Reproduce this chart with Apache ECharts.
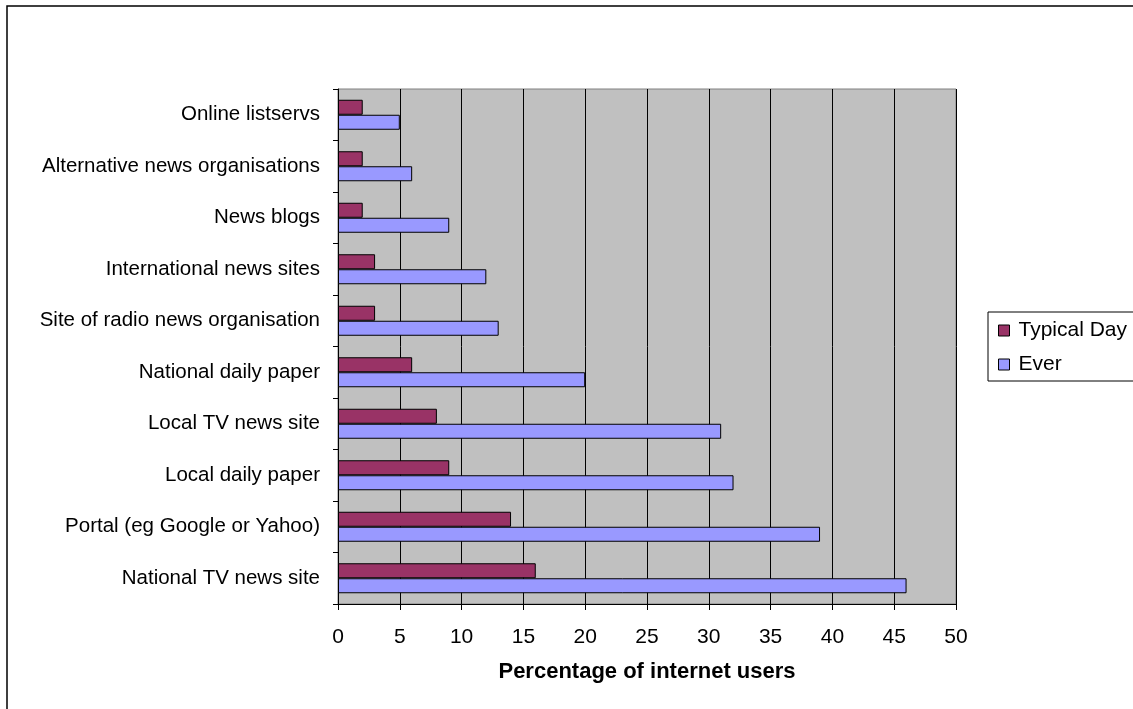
<!DOCTYPE html>
<html>
<head>
<meta charset="utf-8">
<title>Online news sources</title>
<script src="https://cdn.jsdelivr.net/npm/echarts@6/dist/echarts.min.js"></script>
<style>
  html, body { margin: 0; padding: 0; background: #fff; }
  #chart { width: 1133px; height: 709px; }
</style>
</head>
<body>
<div id="chart"></div>
<script>
// categories listed bottom to top, as echarts draws a category y axis
const categories = [
  'National TV news site',
  'Portal (eg Google or Yahoo)',
  'Local daily paper',
  'Local TV news site',
  'National daily paper',
  'Site of radio news organisation',
  'International news sites',
  'News blogs',
  'Alternative news organisations',
  'Online listservs'
]
const typicalDay = [16, 14, 9, 8, 6, 3, 3, 2, 2, 2]
const ever = [46, 39, 32, 31, 20, 13, 12, 9, 6, 5]
const xTicks = { min: 0, max: 50, interval: 5 }

const font = 'Liberation Sans, Arial, sans-serif'

const chart = echarts.init(document.getElementById('chart'))

const option = {
  animation: false,
  backgroundColor: '#fff',
  textStyle: { fontFamily: font },
  graphic: [
    {
      type: 'rect',
      shape: { x: 7, y: 6, width: 1140, height: 720 },
      style: { fill: 'none', stroke: '#000', lineWidth: 1.5 },
      z: -1
    }
  ],
  grid: {
    left: 338,
    right: 177,
    top: 89,
    bottom: 105,
    show: true,
    backgroundColor: '#c0c0c0',
    borderColor: '#808080',
    borderWidth: 1
  },
  legend: {
    orient: 'vertical',
    left: 988,
    top: 312,
    data: ['Typical Day', 'Ever'],
    icon: 'rect',
    itemWidth: 11,
    itemHeight: 11,
    itemGap: 13,
    padding: [8, 40, 6, 10],
    borderColor: '#000',
    borderWidth: 1,
    backgroundColor: '#fff',
    itemStyle: { borderColor: '#000', borderWidth: 1 },
    textStyle: { fontSize: 21, color: '#000', fontFamily: font, padding: [0, 0, 0, 4] }
  },
  xAxis: {
    type: 'value',
    min: xTicks.min,
    max: xTicks.max,
    interval: xTicks.interval,
    name: 'Percentage of internet users',
    nameLocation: 'middle',
    nameGap: 57,
    nameTextStyle: { fontSize: 22, fontWeight: 'bold', color: '#000', fontFamily: font },
    axisLine: { show: true, lineStyle: { color: '#000', width: 1 } },
    axisTick: { show: true, length: 6, lineStyle: { color: '#000' } },
    axisLabel: { fontSize: 21, color: '#000', margin: 23, fontFamily: font },
    splitLine: { show: true, lineStyle: { color: '#000', width: 1 } }
  },
  yAxis: {
    type: 'category',
    data: categories,
    axisLine: { show: true, lineStyle: { color: '#000', width: 1 } },
    axisTick: { show: true, length: 5, lineStyle: { color: '#000' } },
    axisLabel: { fontSize: 20.5, color: '#000', margin: 18, fontFamily: font },
    splitLine: { show: false }
  },
  series: [
    {
      name: 'Typical Day',
      type: 'bar',
      data: typicalDay,
      barWidth: 15,
      barGap: '0%',
      itemStyle: { color: '#993366', borderColor: '#000', borderWidth: 1 }
    },
    {
      name: 'Ever',
      type: 'bar',
      data: ever,
      barWidth: 15,
      barGap: '0%',
      itemStyle: { color: '#9999ff', borderColor: '#000', borderWidth: 1 }
    }
  ]
}

chart.setOption(option)
window.addEventListener('resize', () => chart.resize())
</script>
</body>
</html>
